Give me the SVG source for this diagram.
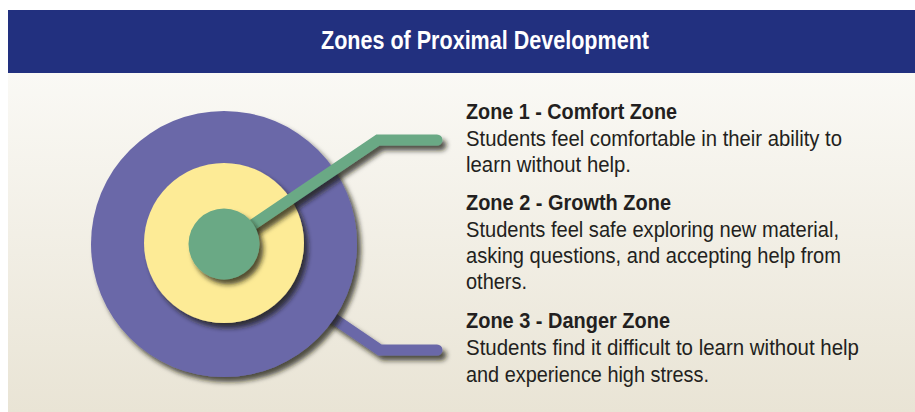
<svg xmlns="http://www.w3.org/2000/svg" width="915" height="412" viewBox="0 0 915 412">
<defs>
<linearGradient id="bg" x1="0" y1="0" x2="0" y2="1">
<stop offset="0" stop-color="#FAF9F5"/>
<stop offset="1" stop-color="#E9E4D5"/>
</linearGradient>
<filter id="sh" x="-20%" y="-20%" width="150%" height="150%">
<feDropShadow dx="4" dy="5" stdDeviation="2.5" flood-color="#1c1a14" flood-opacity="0.75"/>
</filter>
</defs>
<style>
.title{font-family:"Liberation Sans",Arial,sans-serif;font-weight:bold;font-size:26px;fill:#ffffff}
.h{font-family:"Liberation Sans",Arial,sans-serif;font-weight:bold;font-size:22px;fill:#231F20}
.b{font-family:"Liberation Sans",Arial,sans-serif;font-size:22px;fill:#231F20}
.ln{fill:none;stroke-width:11;stroke-linecap:round;stroke-linejoin:miter}
</style>
<rect x="0" y="0" width="915" height="412" fill="#ffffff"/>
<rect x="8" y="73" width="907" height="339" fill="url(#bg)"/>
<g id="header">
<rect x="8" y="10" width="907" height="63" fill="#22307F"/>
<text class="title" x="321" y="49" textLength="328" lengthAdjust="spacingAndGlyphs">Zones of Proximal Development</text>
</g>
<g id="connectors">
<polyline id="c3" class="ln" points="224,244 380,350 437,350" stroke="#6A68A8" filter="url(#sh)"/>
</g>
<g id="zone3">
<circle cx="224" cy="244" r="133" fill="#6A68A8" filter="url(#sh)"/>
</g>
<g id="connectors2">
<polyline id="c2" class="ln" points="224,247 437,247" stroke="#FDEB96" filter="url(#sh)"/>
</g>
<g id="zone2">
<circle cx="224" cy="243" r="80" fill="#FDEB96" filter="url(#sh)"/>
</g>
<g id="connectors1">
<polyline id="c1" class="ln" points="224,244 378,140 437,140" stroke="#6AA985" filter="url(#sh)"/>
</g>
<g id="zone1">
<circle cx="224" cy="244" r="35.5" fill="#6AA985" filter="url(#sh)"/>
</g>
<g id="text1">
<text class="h" x="466" y="119" textLength="211" lengthAdjust="spacingAndGlyphs">Zone 1 - Comfort Zone</text>
<text class="b" x="466" y="146" textLength="376" lengthAdjust="spacingAndGlyphs">Students feel comfortable in their ability to</text>
<text class="b" x="466" y="172" textLength="165" lengthAdjust="spacingAndGlyphs">learn without help.</text>
</g>
<g id="text2">
<text class="h" x="466" y="210" textLength="205" lengthAdjust="spacingAndGlyphs">Zone 2 - Growth Zone</text>
<text class="b" x="466" y="237" textLength="373" lengthAdjust="spacingAndGlyphs">Students feel safe exploring new material,</text>
<text class="b" x="466" y="263" textLength="375" lengthAdjust="spacingAndGlyphs">asking questions, and accepting help from</text>
<text class="b" x="466" y="289" textLength="61" lengthAdjust="spacingAndGlyphs">others.</text>
</g>
<g id="text3">
<text class="h" x="466" y="328" textLength="204" lengthAdjust="spacingAndGlyphs">Zone 3 - Danger Zone</text>
<text class="b" x="466" y="355" textLength="393" lengthAdjust="spacingAndGlyphs">Students find it difficult to learn without help</text>
<text class="b" x="466" y="382" textLength="243" lengthAdjust="spacingAndGlyphs">and experience high stress.</text>
</g>
</svg>
